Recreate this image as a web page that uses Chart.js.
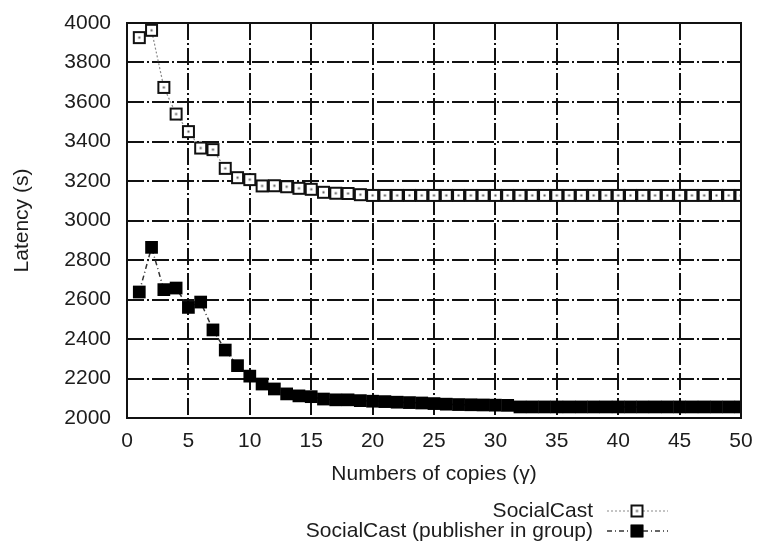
<!DOCTYPE html>
<html>
<head>
<meta charset="utf-8">
<title>SocialCast latency</title>
<script src="https://cdn.jsdelivr.net/npm/chart.js@4/dist/chart.umd.min.js"></script>
<style>
    body { margin: 0; background: #fff; }
    #wrap { width: 758px; height: 547px; position: relative; }
</style>
</head>
<body>
<div id="wrap"><canvas id="myChart"></canvas></div>
<script>
// Data
const copies = [1, 2, 3, 4, 5, 6, 7, 8, 9, 10,
    11, 12, 13, 14, 15, 16, 17, 18, 19, 20,
    21, 22, 23, 24, 25, 26, 27, 28, 29, 30,
    31, 32, 33, 34, 35, 36, 37, 38, 39, 40,
    41, 42, 43, 44, 45, 46, 47, 48, 49, 50];

const socialCast = [3926, 3963, 3674, 3539, 3450, 3367, 3359, 3264, 3217, 3207,
    3175, 3176, 3171, 3163, 3158, 3143, 3138, 3137, 3131, 3127,
    3127, 3127, 3127, 3127, 3127, 3127, 3127, 3127, 3127, 3127,
    3127, 3127, 3127, 3127, 3127, 3127, 3127, 3127, 3127, 3127,
    3127, 3127, 3127, 3127, 3127, 3127, 3127, 3127, 3127, 3127];

const publisherInGroup = [2638, 2864, 2650, 2658, 2560, 2587, 2446, 2344, 2265, 2212,
    2172, 2147, 2122, 2112, 2108, 2096, 2092, 2092, 2088, 2085,
    2083, 2080, 2078, 2076, 2073, 2070, 2068, 2067, 2066, 2065,
    2064, 2056, 2056, 2056, 2056, 2056, 2056, 2056, 2056, 2056,
    2056, 2056, 2056, 2056, 2056, 2056, 2056, 2056, 2056, 2056];

const seriesNames = ["SocialCast", "SocialCast (publisher in group)"];
const xTitle = "Numbers of copies (\u03b3)";
const yTitle = "Latency (s)";

// Styling
const FONT = "'Liberation Sans', Arial, sans-serif";
const INK = "#1c1c1c";
const GRID_DASH = [17, 3, 2, 3];

// open square with a small dot in the middle
function makeOpenSquare() {
    const c = document.createElement("canvas");
    c.width = 15;
    c.height = 15;
    const g = c.getContext("2d");
    g.fillStyle = "#fff";
    g.fillRect(1, 1, 13, 13);
    g.strokeStyle = "#111";
    g.lineWidth = 2;
    g.strokeRect(2, 2, 11, 11);
    g.fillStyle = "#555";
    g.fillRect(6.5, 6.5, 2, 2);
    return c;
}
const openSquare = makeOpenSquare();

function toPoints(values) {
    return copies.map(function (x, i) { return { x: x, y: values[i] }; });
}

// keep the plot area fixed, no extra room for overhanging labels
function noOverhang(scale) {
    scale.paddingLeft = 0;
    scale.paddingRight = 0;
    scale.paddingTop = 0;
    scale.paddingBottom = 0;
}

// frame around the plot area
const framePlugin = {
    id: "frame",
    afterDatasetsDraw(chart) {
        const a = chart.chartArea;
        const ctx = chart.ctx;
        ctx.save();
        ctx.strokeStyle = "#111";
        ctx.lineWidth = 2;
        ctx.setLineDash([]);
        ctx.strokeRect(a.left, a.top, a.right - a.left, a.bottom - a.top);
        ctx.restore();
    }
};

// gnuplot style key: text on the left, sample on the right
const keyPlugin = {
    id: "key",
    afterDraw(chart) {
        const ctx = chart.ctx;
        const textRight = 593;
        const lineStart = 607;
        const lineEnd = 668;
        const rows = [511, 531];
        ctx.save();
        ctx.font = "21px " + FONT;
        ctx.fillStyle = INK;
        ctx.textAlign = "right";
        ctx.textBaseline = "middle";
        chart.data.datasets.forEach(function (ds, i) {
            const y = rows[i];
            ctx.fillText(ds.label, textRight, y);
            ctx.beginPath();
            ctx.strokeStyle = ds.borderColor;
            ctx.lineWidth = ds.borderWidth;
            ctx.setLineDash(ds.borderDash);
            ctx.moveTo(lineStart, y);
            ctx.lineTo(lineEnd, y);
            ctx.stroke();
            ctx.setLineDash([]);
            Chart.helpers.drawPoint(ctx, {
                pointStyle: ds.pointStyle,
                radius: ds.pointRadius,
                borderWidth: 0
            }, 637, y);
            if (ds.pointStyle === "rect") {
                ctx.fillStyle = ds.pointBackgroundColor;
                ctx.fill();
                ctx.fillStyle = INK;
            }
        });
        ctx.restore();
    }
};

const myChart = document.getElementById("myChart").getContext("2d");

const lineChart = new Chart(myChart, {
    type: "line",
    data: {
        datasets: [{
            label: seriesNames[0],
            data: toPoints(socialCast),
            borderColor: "#8a8a8a",
            borderWidth: 1.2,
            borderDash: [2, 2],
            pointStyle: openSquare,
            pointRadius: 7,
            pointHoverRadius: 7
        }, {
            label: seriesNames[1],
            data: toPoints(publisherInGroup),
            borderColor: "#333",
            borderWidth: 1.5,
            borderDash: [5, 3, 1, 3],
            pointStyle: "rect",
            pointRadius: 9,
            pointHoverRadius: 9,
            pointBackgroundColor: "#000",
            pointBorderWidth: 0
        }]
    },
    options: {
        responsive: true,
        maintainAspectRatio: false,
        animation: false,
        layout: { padding: { left: 0, top: 23, right: 17, bottom: 59 } },
        plugins: {
            legend: { display: false },
            tooltip: { enabled: false }
        },
        scales: {
            x: {
                type: "linear",
                min: 0,
                max: 50,
                afterFit: function (s) { s.height = 70; noOverhang(s); },
                ticks: {
                    stepSize: 5,
                    padding: 11,
                    color: INK,
                    maxRotation: 0,
                    font: { family: FONT, size: 21 }
                },
                grid: { color: "#111", lineWidth: 2, drawTicks: false },
                border: { display: false, dash: GRID_DASH },
                title: {
                    display: true,
                    text: xTitle,
                    color: INK,
                    font: { family: FONT, size: 21 },
                    padding: { top: 0, bottom: 1 }
                }
            },
            y: {
                min: 2000,
                max: 4000,
                afterFit: function (s) { s.width = 127; noOverhang(s); },
                ticks: {
                    stepSize: 200,
                    padding: 16,
                    color: INK,
                    format: { useGrouping: false },
                    font: { family: FONT, size: 21 }
                },
                grid: { color: "#111", lineWidth: 2, drawTicks: false },
                border: { display: false, dash: GRID_DASH },
                title: {
                    display: true,
                    text: yTitle,
                    color: INK,
                    font: { family: FONT, size: 21 },
                    padding: { top: 10, bottom: 0 }
                }
            }
        }
    },
    plugins: [framePlugin, keyPlugin]
});
</script>
</body>
</html>
